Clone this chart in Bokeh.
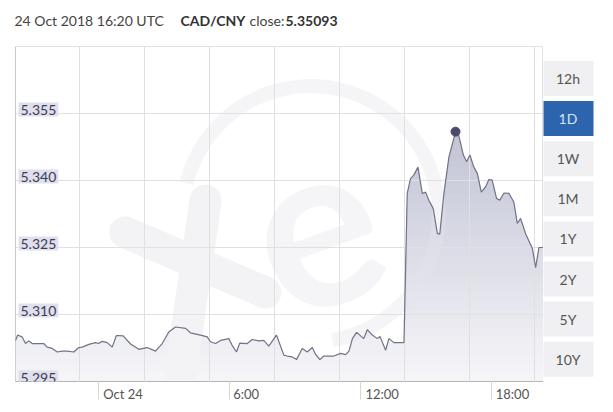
import numpy as np
from bokeh.plotting import figure
from bokeh.models import Range1d, FixedTicker, Label, Span, Grid
from bokeh.layouts import row, column
from bokeh.core.properties import value
from bokeh.embed import file_html
from bokeh.resources import INLINE

# ---- data (hours relative to 24 Oct 2018 00:00) ----
hours = [-3.80, -3.70, -3.50, -3.34, -3.19, -3.04, -2.51, -2.35, -2.12, -1.89,
         -1.66, -1.43, -1.13, -0.90, -0.75, -0.44, -0.14, 0.01, 0.17, 0.40,
         0.63, 0.82, 1.13, 1.47, 1.69, 1.85, 2.23, 2.61, 2.92, 3.22,
         3.53, 3.99, 4.21, 4.67, 4.98, 5.13, 5.36, 5.59, 5.97, 6.12,
         6.32, 6.47, 6.81, 7.04, 7.34, 7.57, 7.80, 8.15, 8.49, 8.64,
         8.87, 9.07, 9.33, 9.56, 9.79, 9.94, 10.14, 10.32, 10.78, 11.09,
         11.32, 11.47, 11.63, 11.82, 12.15, 12.31, 12.54, 12.77, 12.89, 13.15,
         13.30, 13.53, 13.99, 14.14, 14.29, 14.44, 14.63, 14.83, 14.98, 15.13,
         15.33, 15.52, 15.63, 15.82, 16.05, 16.35, 16.50, 16.71, 16.86, 17.01,
         17.19, 17.35, 17.53, 17.73, 17.88, 18.03, 18.23, 18.38, 18.57, 18.80,
         19.02, 19.18, 19.33, 19.56, 19.87, 20.02, 20.17, 20.38]
rates = [5.3042, 5.3054, 5.3050, 5.3035, 5.3041, 5.3035, 5.3035, 5.3027, 5.3024, 5.3016,
         5.3018, 5.3018, 5.3016, 5.3026, 5.3027, 5.3033, 5.3037, 5.3035, 5.3040, 5.3037,
         5.3027, 5.3053, 5.3052, 5.3034, 5.3027, 5.3022, 5.3026, 5.3018, 5.3035, 5.3061,
         5.3072, 5.3069, 5.3059, 5.3054, 5.3050, 5.3039, 5.3035, 5.3042, 5.3046, 5.3031,
         5.3016, 5.3036, 5.3035, 5.3044, 5.3041, 5.3042, 5.3029, 5.3054, 5.3009, 5.3007,
         5.3005, 5.2999, 5.3024, 5.3016, 5.3026, 5.3011, 5.2999, 5.3007, 5.3007, 5.3013,
         5.3010, 5.3018, 5.3046, 5.3060, 5.3046, 5.3066, 5.3054, 5.3046, 5.3051, 5.3020,
         5.3046, 5.3037, 5.3037, 5.3371, 5.3404, 5.3412, 5.3430, 5.3371, 5.3374, 5.3356,
         5.3337, 5.3281, 5.3280, 5.3371, 5.3453, 5.3509, 5.3501, 5.3457, 5.3442, 5.3457,
         5.3430, 5.3416, 5.3374, 5.3386, 5.3402, 5.3401, 5.3360, 5.3356, 5.3372, 5.3371,
         5.3352, 5.3304, 5.3315, 5.3281, 5.3248, 5.3205, 5.3250, 5.3250]

close_hour = 16.35
close_rate = 5.35093
title_date = "24 Oct 2018 16:20 UTC"
pair = "CAD/CNY"

y_ticks = [5.295, 5.310, 5.325, 5.340, 5.355]
x_label_hours = [1.12, 6.76, 12.99, 18.96]
x_labels = ["Oct 24", "6:00", "12:00", "18:00"]
x_separator_hours = [0, 6, 12, 18]
x_grid_hours = [-0.87, 2.11, 5.08, 8.06, 11.04, 14.02, 17.0, 19.97]
buttons = ["12h", "1D", "1W", "1M", "1Y", "2Y", "5Y", "10Y"]
selected = "1D"

FONT = "Lato"
Y0, Y1 = 5.295, 5.370
X0, X1 = hours[0], hours[-1]

# ---- header strip ----
hdr = figure(width=605, height=40, x_range=Range1d(0, 605), y_range=Range1d(40, 0),
             output_backend="svg", toolbar_location=None,
             x_axis_location=None, y_axis_location=None,
             min_border_left=0, min_border_right=0, min_border_top=0, min_border_bottom=0,
             outline_line_color=None, background_fill_color="white", border_fill_color="white")
hdr.center = [c for c in hdr.center if not isinstance(c, Grid)]
hdr.text(x=[14, 180, 249, 285], y=[20, 20, 20, 20],
         text=[title_date, pair, "close:", f"{close_rate:.5f}"],
         text_font=value(FONT), text_font_size="14px",
         text_font_style=["normal", "bold", "normal", "bold"],
         text_color=["#444444", "#333333", "#444444", "#333333"],
         text_baseline="alphabetic", text_align="left")

# ---- main chart ----
p = figure(width=543, height=364,
           x_range=Range1d(X0, X1), y_range=Range1d(Y0, Y1),
           output_backend="svg", toolbar_location=None,
           y_axis_location=None,
           min_border_left=15, min_border_right=0, min_border_top=6, min_border_bottom=23,
           outline_line_color="#e2e2e2",
           background_fill_color="white", border_fill_color="white")

p.center = [c for c in p.center if not isinstance(c, Grid)]
p.add_layout(Grid(dimension=0, ticker=FixedTicker(ticks=x_grid_hours),
                  grid_line_color="#e0e0e0", level="guide"))
p.add_layout(Grid(dimension=1, ticker=FixedTicker(ticks=y_ticks),
                  grid_line_color="#e0e0e0", level="guide"))

# gradient area: stacked bands, top colour first
h = np.array(hours)
r = np.array(rates)
GTOP = 5.355
levels = np.linspace(Y0, GTOP, 31)
c_lo = np.array([246, 246, 249])
c_hi = np.array([190, 192, 210])
base = np.full_like(h, Y0)
for k in range(len(levels) - 1, 0, -1):
    cap = np.minimum(r, levels[k])
    t = ((levels[k] + levels[k - 1]) / 2 - Y0) / (GTOP - Y0)
    c = (c_lo + (c_hi - c_lo) * t).round().astype(int)
    p.varea(x=h, y1=base, y2=cap, fill_color="#%02x%02x%02x" % tuple(c))

# watermark (placed by fractions of the frame)
def fx(f):
    return X0 + f * (X1 - X0)

def fy(f):
    return Y0 + f * (Y1 - Y0)

wm_color = "#e4e4ec"
wm_alpha = 0.38
p.segment(x0=[fx(0.208), fx(0.360)], y0=[fy(0.445), fy(0.540)],
          x1=[fx(0.473), fx(0.313)], y1=[fy(0.266), fy(0.027)],
          line_width=32, line_cap="round", line_color="#f3f3f6")
p.annular_wedge(x=fx(0.559), y=fy(0.50), inner_radius=121, outer_radius=135,
                inner_radius_units="screen", outer_radius_units="screen",
                start_angle=-1.4, end_angle=2.9,
                fill_color=wm_color, fill_alpha=wm_alpha, line_color=None)
p.text(x=[fx(0.565)], y=[fy(0.47)], text=["e"], text_font=value(FONT),
       text_font_style="bold", text_font_size="230px", angle=0.35,
       text_align="center", text_baseline="middle",
       text_color=wm_color, text_alpha=wm_alpha)

# line + close marker
p.line(h, r, line_color="#737388", line_width=1.2, level="annotation")
p.scatter([close_hour], [close_rate], size=9, fill_color="#4b4a6b",
          line_color="#4b4a6b", level="annotation")

# x axis
ax = p.xaxis[0]
ax.ticker = FixedTicker(ticks=x_label_hours, minor_ticks=x_separator_hours)
ax.major_label_overrides = {hv: lab for hv, lab in zip(x_label_hours, x_labels)}
ax.axis_line_color = "#b5b5b5"
ax.major_tick_out = 0
ax.major_tick_in = 0
ax.minor_tick_in = 0
ax.minor_tick_out = 18
ax.minor_tick_line_color = "#d6d6d6"
ax.major_label_standoff = -14
ax.major_label_text_font = FONT
ax.major_label_text_font_size = "13px"
ax.major_label_text_color = "#555555"

p.add_layout(Span(location=X0, dimension="height", line_color="#b0b0b0", line_width=1))

for t in y_ticks:
    p.add_layout(Label(x=X0, y=t, x_offset=3, y_offset=4, text=f"{t:.3f}",
                       text_font=FONT, text_font_size="14px", text_color="#3c3c52",
                       text_baseline="alphabetic", background_fill_color="#dfdfed",
                       background_fill_alpha=1.0, padding=2))

# ---- range buttons ----
p2 = figure(width=62, height=364, x_range=Range1d(0, 62), y_range=Range1d(7.556, -0.798),
            output_backend="svg", toolbar_location=None,
            x_axis_location=None, y_axis_location=None,
            min_border_left=0, min_border_right=0, min_border_top=6, min_border_bottom=23,
            outline_line_color=None, background_fill_color="white", border_fill_color="white")
p2.center = [c for c in p2.center if not isinstance(c, Grid)]
bx = [24.5] * len(buttons)
by = list(range(len(buttons)))
bfill = ["#2c65ae" if b == selected else "#f0f0f3" for b in buttons]
btext = ["#d6e4f6" if b == selected else "#555555" for b in buttons]
p2.rect(x=bx, y=by, width=51, height=35, width_units="screen", height_units="screen",
        fill_color=bfill, line_color=None)
p2.text(x=bx, y=by, text=buttons, text_align="center", text_baseline="middle",
        text_font=value(FONT), text_font_size="14px", text_color=btext)

layout = column(hdr, row(p, p2))
open("out.html", "w").write(file_html(layout, INLINE))
